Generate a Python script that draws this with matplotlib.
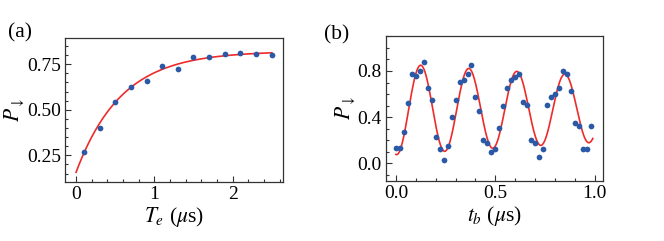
import numpy as np
import matplotlib
matplotlib.use("Agg")
import matplotlib.pyplot as plt
from matplotlib.ticker import MultipleLocator, FormatStrFormatter

plt.rcParams['font.family'] = 'serif'
plt.rcParams['font.serif'] = ['Liberation Serif', 'DejaVu Serif']
plt.rcParams['mathtext.fontset'] = 'stix'

# panel (a): decay measurement
te = [0.1, 0.3, 0.5, 0.7, 0.9, 1.1, 1.3, 1.5, 1.7, 1.9, 2.1, 2.3, 2.5]
p_a = [0.27, 0.40, 0.545, 0.625, 0.66, 0.738, 0.725, 0.79, 0.79, 0.805, 0.81, 0.805, 0.80]
# fit: A - B*exp(-t/tau)
fit_a = dict(A=0.822, B=0.665, tau=0.58)

# panel (b): oscillation
tb = [0.00, 0.02, 0.04, 0.06, 0.08, 0.10, 0.12, 0.14, 0.16, 0.18,
      0.20, 0.22, 0.24, 0.26, 0.28, 0.30, 0.32, 0.34, 0.36, 0.38,
      0.40, 0.42, 0.44, 0.46, 0.48, 0.50, 0.52, 0.54, 0.56, 0.58,
      0.60, 0.62, 0.64, 0.66, 0.68, 0.70, 0.72, 0.74, 0.76, 0.78,
      0.80, 0.82, 0.84, 0.86, 0.88, 0.90, 0.92, 0.94, 0.96, 0.98]
p_b = [0.13, 0.13, 0.275, 0.525, 0.777, 0.754, 0.80, 0.875, 0.65, 0.552,
       0.228, 0.127, 0.026, 0.153, 0.404, 0.552, 0.705, 0.725, 0.777, 0.852,
       0.578, 0.45, 0.202, 0.179, 0.10, 0.127, 0.303, 0.50, 0.653, 0.725,
       0.751, 0.777, 0.528, 0.502, 0.202, 0.18, 0.052, 0.127, 0.502, 0.578,
       0.60, 0.653, 0.80, 0.777, 0.627, 0.352, 0.326, 0.127, 0.127, 0.326]
# fit: c - a*exp(-t/T)*cos(2*pi*(t - t0)/period)
fit_b = dict(c=0.47, a=0.395, T=3.2, t0=0.004, period=0.2417)

dot_color = '#2b59a6'
line_color = '#ee2b2b'
tick_fs = 14
label_fs = 15.5

fig = plt.figure(figsize=(6.64, 2.41), dpi=100)

def style(ax):
    ax.tick_params(which='both', direction='in', top=False, right=False,
                   width=0.8, color='#333333', labelsize=tick_fs, pad=3)
    ax.tick_params(which='major', length=4.5)
    ax.tick_params(which='minor', length=2.5)
    for s in ax.spines.values():
        s.set_color('#333333')
        s.set_linewidth(0.9)

# (a)
ax1 = fig.add_axes([0.0984, 0.2436, 0.3274, 0.600])
t = np.linspace(0, 2.5, 200)
ax1.plot(t, fit_a['A'] - fit_a['B'] * np.exp(-t / fit_a['tau']), color=line_color, lw=1.2, zorder=2)
ax1.scatter(te, p_a, s=17, color=dot_color, zorder=3, linewidths=0)
ax1.set_xlim(-0.137, 2.64)
ax1.set_ylim(0.102, 0.896)
ax1.xaxis.set_major_locator(MultipleLocator(1))
ax1.xaxis.set_minor_locator(MultipleLocator(0.2))
ax1.yaxis.set_major_locator(MultipleLocator(0.25))
ax1.yaxis.set_minor_locator(MultipleLocator(0.05))
ax1.yaxis.set_major_formatter(FormatStrFormatter('%.2f'))
ax1.set_xlabel(r'$T_e$ ($\mu$s)', fontsize=label_fs, labelpad=1)
ax1.set_ylabel(r'$P_\downarrow$', fontsize=label_fs, labelpad=0)
style(ax1)
fig.text(0.012, 0.865, '(a)', fontsize=label_fs, va='center')

# (b)
ax2 = fig.add_axes([0.5813, 0.249, 0.3264, 0.603])
t2 = np.linspace(0, 0.99, 400)
ax2.plot(t2, fit_b['c'] - fit_b['a'] * np.exp(-t2 / fit_b['T'])
         * np.cos(2 * np.pi * (t2 - fit_b['t0']) / fit_b['period']),
         color=line_color, lw=1.2, zorder=2)
ax2.scatter(tb, p_b, s=17, color=dot_color, zorder=3, linewidths=0)
ax2.set_xlim(-0.05, 1.04)
ax2.set_ylim(-0.153, 1.106)
ax2.xaxis.set_major_locator(MultipleLocator(0.5))
ax2.xaxis.set_minor_locator(MultipleLocator(0.1))
ax2.yaxis.set_major_locator(MultipleLocator(0.4))
ax2.yaxis.set_minor_locator(MultipleLocator(0.1))
ax2.xaxis.set_major_formatter(FormatStrFormatter('%.1f'))
ax2.yaxis.set_major_formatter(FormatStrFormatter('%.1f'))
ax2.set_xlabel(r'$t_b$ ($\mu$s)', fontsize=label_fs, labelpad=1)
ax2.set_ylabel(r'$P_\downarrow$', fontsize=label_fs, labelpad=0)
style(ax2)
fig.text(0.488, 0.855, '(b)', fontsize=label_fs, va='center')

fig.savefig('out.png', dpi=100)
